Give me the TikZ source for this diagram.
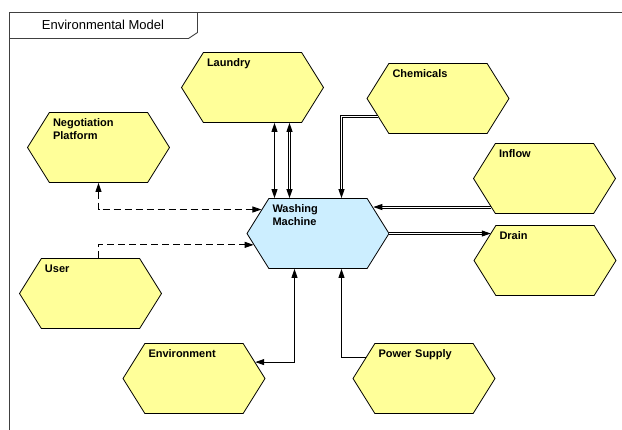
\documentclass[tikz,border=0pt]{standalone}
\usepackage{fontspec}
\setmainfont{Liberation Sans}
\usepackage{tikz}
\usetikzlibrary{arrows.meta,shapes.symbols,calc}

\definecolor{hexyellow}{HTML}{FFFF99}
\definecolor{hexblue}{HTML}{CCEEFF}
\definecolor{framegray}{HTML}{404040}

\begin{document}
\begin{tikzpicture}[x=1pt,y=-1pt,
  >={Triangle[length=9pt,width=6pt]},
  hexnode/.style={signal,signal to=east and west,signal pointer angle=116,
    draw=black,line width=0.8pt,fill=hexyellow,
    minimum width=142pt,minimum height=70pt,inner sep=2pt,
    text width=91pt,align=left,text height=8pt,text depth=51pt,
    font=\bfseries\fontsize{11}{13}\selectfont},
  conn/.style={line width=0.9pt},
  pipe/.style={double,double distance=1pt,line width=1pt},
  dashconn/.style={conn,dash pattern=on 7pt off 4pt}]
\useasboundingbox (0,0) rectangle (622,429);
\clip (0,0) rectangle (622,429);
\fill[white] (0,0) rectangle (622,429);

% Frame with title tab
\draw[framegray,line width=0.9pt] (9.5,440) -- (9.5,12.5) -- (640,12.5);
\draw[framegray,line width=0.9pt] (9.5,38.5) -- (188.5,38.5) -- (197.5,32.5) -- (197.5,12.5);
\node[font=\fontsize{13}{15}\selectfont,inner sep=0pt] (title) at (103,25) {Environmental Model};

% Elements
\node[hexnode] (laundry) at (252.5,87.5) {Laundry};
\node[hexnode] (negotiation) at (98.5,147.5) {Negotiation\\Platform};
\node[hexnode] (chemicals) at (438,98.5) {Chemicals};
\node[hexnode] (inflow) at (544.5,178.5) {Inflow};
\node[hexnode] (drain) at (545,260.5) {Drain};
\node[hexnode,fill=hexblue] (washer) at (318,233.5) {Washing\\Machine};
\node[hexnode] (user) at (90.5,293.5) {User};
\node[hexnode] (environment) at (194,378.5) {Environment};
\node[hexnode] (power) at (424,378.5) {Power Supply};

% Laundry <-> washing machine
\draw[conn,<->] ([xshift=22pt]laundry.south) -- ([xshift=22pt]laundry.south |- washer.north);
\draw[pipe,<->] ([xshift=37pt]laundry.south) -- ([xshift=37pt]laundry.south |- washer.north);

% Material flows
\draw[pipe,->] (chemicals.197.83) -| ([xshift=23.5pt]washer.north);
\draw[pipe,->] (inflow.208.79) -- (washer.25.44 |- inflow.208.79);
\draw[pipe,->] (washer.east) -- (washer.east -| drain.153.45);

% Information
\draw[dashconn,<->] (negotiation.south) |- (washer.157.86);
\draw[dashconn,->] ([xshift=8pt]user.north) |- (washer.190.71);

% Environment and power
\draw[conn,<->] (environment.15.74) -| ([xshift=-23.5pt]washer.south);
\draw[conn,->] (power.160.03) -| ([xshift=23.5pt]washer.south);
\end{tikzpicture}
\end{document}
